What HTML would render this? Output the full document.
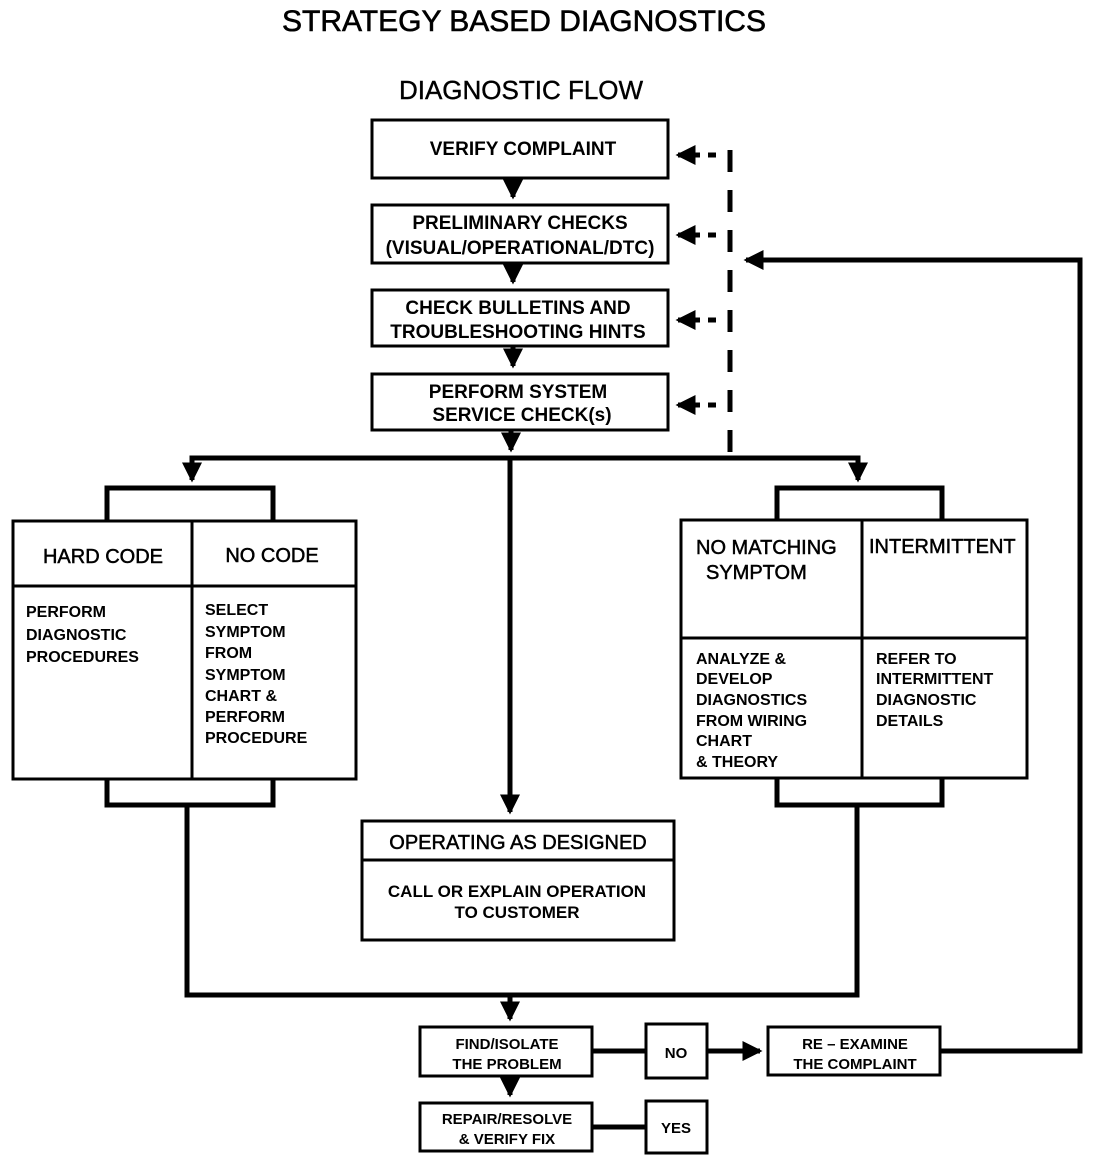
<!DOCTYPE html>
<html><head><meta charset="utf-8"><style>
html,body{margin:0;padding:0;background:#fff;}
svg{display:block;}
text{font-family:"Liberation Sans",sans-serif;fill:#000;}
</style></head><body>
<svg width="1104" height="1162" viewBox="0 0 1104 1162" xmlns="http://www.w3.org/2000/svg">
<defs>
<marker id="a" markerWidth="4" markerHeight="4" refX="3.5" refY="2" orient="auto" markerUnits="strokeWidth">
<path d="M0,0 L4,2 L0,4 z" fill="#000"/></marker>
</defs>
<text x="524" y="31" font-size="30" text-anchor="middle" stroke="#000" stroke-width="0.6">STRATEGY BASED DIAGNOSTICS</text>
<text x="521" y="99" font-size="26" text-anchor="middle" stroke="#000" stroke-width="0.4">DIAGNOSTIC FLOW</text>

<g fill="none" stroke="#000" stroke-width="3">
<rect x="372" y="120" width="296" height="58"/>
<rect x="372" y="205" width="296" height="58"/>
<rect x="372" y="290" width="296" height="56"/>
<rect x="372" y="374" width="296" height="56"/>
</g>
<g stroke="#000" stroke-width="5" fill="none">
<line x1="513" y1="178" x2="513" y2="197" marker-end="url(#a)"/>
<line x1="513" y1="263" x2="513" y2="282" marker-end="url(#a)"/>
<line x1="513" y1="346" x2="513" y2="366" marker-end="url(#a)"/>
<line x1="511" y1="430" x2="511" y2="450" marker-end="url(#a)"/>
<polyline points="192,478 192,458 858,458 858,478" />
<line x1="192" y1="458" x2="192" y2="480" marker-end="url(#a)"/>
<line x1="858" y1="458" x2="858" y2="480" marker-end="url(#a)"/>
<line x1="510" y1="458" x2="510" y2="812" marker-end="url(#a)"/>
<polyline points="107,521 107,488 273,488 273,521"/>
<polyline points="107,779 107,805 273,805 273,779"/>
<polyline points="777,520 777,488 942,488 942,520"/>
<polyline points="777,778 777,805 942,805 942,778"/>
<polyline points="187,805 187,995 857,995 857,805"/>
<line x1="510" y1="995" x2="510" y2="1019" marker-end="url(#a)"/>
<line x1="510" y1="1076" x2="510" y2="1095" marker-end="url(#a)"/>
<line x1="592" y1="1051" x2="646" y2="1051"/>
<line x1="707" y1="1051" x2="760" y2="1051" marker-end="url(#a)"/>
<line x1="592" y1="1127" x2="646" y2="1127"/>
<polyline points="940,1051 1080,1051 1080,260 746,260" marker-end="url(#a)"/>
</g>
<g stroke="#000" stroke-width="5" fill="none">
<line x1="730" y1="150" x2="730" y2="455" stroke-dasharray="22,18"/>
<line x1="716" y1="155" x2="678" y2="155" stroke-dasharray="8,8" marker-end="url(#a)"/>
<line x1="716" y1="235" x2="678" y2="235" stroke-dasharray="8,8" marker-end="url(#a)"/>
<line x1="716" y1="320" x2="678" y2="320" stroke-dasharray="8,8" marker-end="url(#a)"/>
<line x1="716" y1="405" x2="678" y2="405" stroke-dasharray="8,8" marker-end="url(#a)"/>
</g>

<g fill="none" stroke="#000" stroke-width="3">
<rect x="13" y="521" width="343" height="258"/>
<line x1="13" y1="586" x2="356" y2="586"/>
<line x1="192" y1="521" x2="192" y2="779"/>
<rect x="681" y="520" width="346" height="258"/>
<line x1="681" y1="638" x2="1027" y2="638"/>
<line x1="862" y1="520" x2="862" y2="778"/>
<rect x="362" y="821" width="312" height="119"/>
<line x1="362" y1="860" x2="674" y2="860"/>
<rect x="420" y="1027" width="172" height="49"/>
<rect x="646" y="1024" width="61" height="54"/>
<rect x="768" y="1027" width="172" height="48"/>
<rect x="420" y="1103" width="172" height="48"/>
<rect x="646" y="1101" width="61" height="52"/>
</g>

<g font-weight="bold" text-anchor="middle">
<text x="523" y="155" font-size="19">VERIFY COMPLAINT</text>
<text x="520" y="229" font-size="19">PRELIMINARY CHECKS</text>
<text x="520" y="254" font-size="19">(VISUAL/OPERATIONAL/DTC)</text>
<text x="518" y="314" font-size="19">CHECK BULLETINS AND</text>
<text x="518" y="338" font-size="19">TROUBLESHOOTING HINTS</text>
<text x="518" y="398" font-size="19">PERFORM  SYSTEM</text>
<text x="522" y="421" font-size="19">SERVICE CHECK(s)</text>
<text x="103" y="563" font-size="20" font-weight="normal" stroke="#000" stroke-width="0.5">HARD CODE</text>
<text x="272" y="562" font-size="20" font-weight="normal" stroke="#000" stroke-width="0.5">NO CODE</text>
<text x="518" y="849" font-size="20" font-weight="normal" stroke="#000" stroke-width="0.5">OPERATING AS DESIGNED</text>
<text x="517" y="897" font-size="17">CALL OR EXPLAIN OPERATION</text>
<text x="517" y="918" font-size="17">TO CUSTOMER</text>
<text x="507" y="1049" font-size="15">FIND/ISOLATE</text>
<text x="507" y="1069" font-size="15">THE PROBLEM</text>
<text x="676" y="1058" font-size="15">NO</text>
<text x="855" y="1049" font-size="15">RE – EXAMINE</text>
<text x="855" y="1069" font-size="15">THE COMPLAINT</text>
<text x="507" y="1124" font-size="15">REPAIR/RESOLVE</text>
<text x="507" y="1144" font-size="15">&amp; VERIFY FIX</text>
<text x="676" y="1133" font-size="15">YES</text>
</g>
<g font-weight="bold" font-size="16">
<text x="26" y="617">PERFORM</text>
<text x="26" y="640">DIAGNOSTIC</text>
<text x="26" y="662">PROCEDURES</text>
<text x="205" y="615">SELECT</text>
<text x="205" y="637">SYMPTOM</text>
<text x="205" y="658">FROM</text>
<text x="205" y="680">SYMPTOM</text>
<text x="205" y="701">CHART &amp;</text>
<text x="205" y="722">PERFORM</text>
<text x="205" y="743">PROCEDURE</text>
<text x="696" y="664">ANALYZE &amp;</text>
<text x="696" y="684">DEVELOP</text>
<text x="696" y="705">DIAGNOSTICS</text>
<text x="696" y="726">FROM WIRING</text>
<text x="696" y="746">CHART</text>
<text x="696" y="767">&amp; THEORY</text>
<text x="876" y="664">REFER TO</text>
<text x="876" y="684">INTERMITTENT</text>
<text x="876" y="705">DIAGNOSTIC</text>
<text x="876" y="726">DETAILS</text>
</g>
<g font-size="20" stroke="#000" stroke-width="0.5">
<text x="696" y="554">NO MATCHING</text>
<text x="706" y="579">SYMPTOM</text>
<text x="869" y="553">INTERMITTENT</text>
</g>
</svg>
</body></html>
